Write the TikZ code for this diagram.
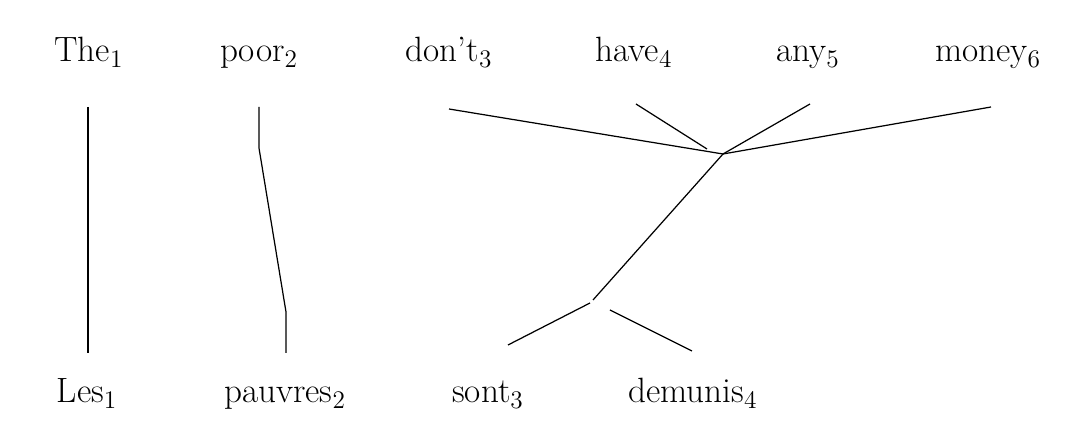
\documentclass[tikz,border=0pt]{standalone}
\usepackage{tikz}
\usetikzlibrary{positioning, calc}

\begin{document}
\begin{tikzpicture}[
        x=0.02cm, y=-0.02cm,
        wordBlock/.style={
            anchor=base, inner sep=0pt,
            font=\fontsize{20}{22}\selectfont
        },
        link/.style={
            line width=0.7pt, draw=black
        }
    ]
        \useasboundingbox (0,0) rectangle (1080,431);

        % English words
        \node (the)   [wordBlock] at (89,62)  {The$_1$};
        \node (poor)  [wordBlock] at (259,62) {poor$_2$};
        \node (dont)  [wordBlock] at (449,62) {don't$_3$};
        \node (have)  [wordBlock] at (634,62) {have$_4$};
        \node (any)   [wordBlock] at (808,62) {any$_5$};
        \node (money) [wordBlock] at (988,62) {money$_6$};

        % French words
        \node (les)     [wordBlock] at (87,403)  {Les$_1$};
        \node (pauvres) [wordBlock] at (285,403) {pauvres$_2$};
        \node (sont)    [wordBlock] at (488,403) {sont$_3$};
        \node (demunis) [wordBlock] at (693,403) {demunis$_4$};

        % Link ends
        \coordinate (theTop)     at (88,107);
        \coordinate (lesTop)     at (88,353);
        \coordinate (poorTop)    at (259,107);
        \coordinate (poorBend)   at (259,148);
        \coordinate (pauvBend)   at (286,312);
        \coordinate (pauvTop)    at (286,353);
        \coordinate (dontEnd)    at (449,109);
        \coordinate (haveEnd)    at (636,104);
        \coordinate (haveTip)    at (707,149);
        \coordinate (anyEnd)     at (810,104);
        \coordinate (moneyEnd)   at (991,107);
        \coordinate (hub)        at (723,154);
        \coordinate (lowHub)     at (593,300);
        \coordinate (sontTip)    at (590,303);
        \coordinate (sontEnd)    at (508,345);
        \coordinate (demTip)     at (610,310);
        \coordinate (demEnd)     at (692,351);

        % Links
        \draw [link] (theTop) -- (lesTop);
        \draw [link] (poorTop) -- (poorBend) -- (pauvBend) -- (pauvTop);
        \draw [link] (dontEnd) -- (hub);
        \draw [link] (haveEnd) -- (haveTip);
        \draw [link] (anyEnd) -- (hub);
        \draw [link] (moneyEnd) -- (hub);
        \draw [link] (hub) -- (lowHub);
        \draw [link] (sontTip) -- (sontEnd);
        \draw [link] (demTip) -- (demEnd);
    \end{tikzpicture}
\end{document}
